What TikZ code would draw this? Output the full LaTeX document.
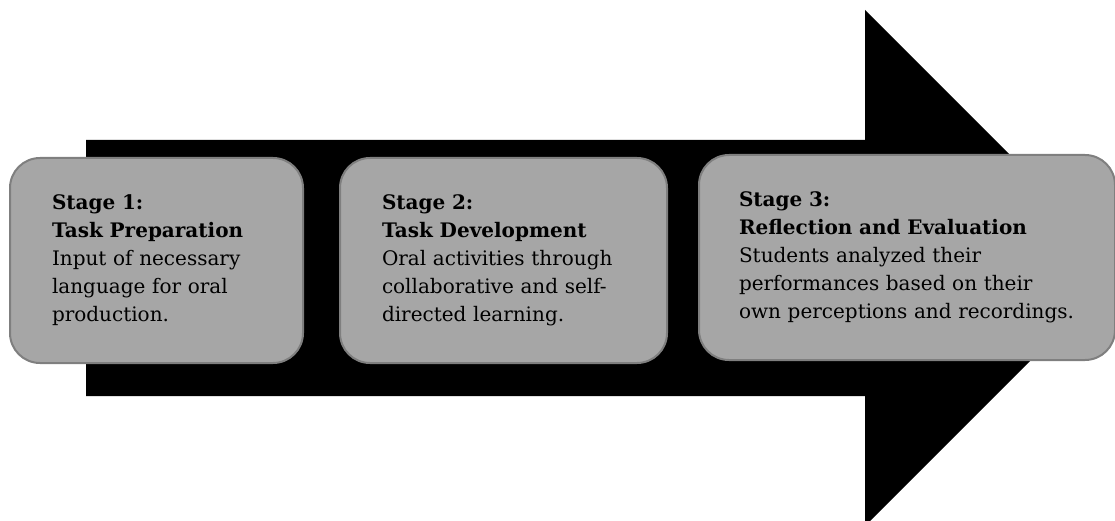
\documentclass[tikz,border=0pt]{standalone}
\usepackage{fontspec}
\setmainfont{DejaVu Serif}
\usepackage{tikz}
\usetikzlibrary{positioning}
\definecolor{stagefill}{HTML}{A6A6A6}
\definecolor{stageline}{HTML}{7F7F7F}
\tikzstyle{StageNode}=[rectangle, rounded corners=30pt, draw=stageline, line width=2pt, fill=stagefill, minimum height=205pt, inner xsep=42pt, align=left, font=\fontsize{20}{28}\selectfont]

\begin{document}
\begin{tikzpicture}[x=1pt, y=-1pt]
      \useasboundingbox (0,0) rectangle (1115,521);
      \clip (0,0) rectangle (1115,521);
      % big arrow behind the stages
      \fill[black] (86,140) -- (865,140) -- (865,10) -- (1123,268) -- (865,526) -- (865,396) -- (86,396) -- cycle;
      \node[StageNode, text width=209pt] (s1) at (156.5,260.5) {\textbf{Stage 1:}\\ \textbf{Task Preparation}\\ Input of necessary\\ language for oral\\ production.};
      \node[StageNode, text width=243pt] (s2) [right=35pt of s1] {\textbf{Stage 2:}\\ \textbf{Task Development}\\ Oral activities through\\ collaborative and self-\\ directed learning.};
      \node[StageNode, text width=336pt, inner xsep=40pt] (s3) [right=30pt of s2, yshift=3pt] {\textbf{Stage 3:}\\ \textbf{Reflection and Evaluation}\\ Students analyzed their\\ performances based on their\\ own perceptions and recordings.};
    \end{tikzpicture}
\end{document}
